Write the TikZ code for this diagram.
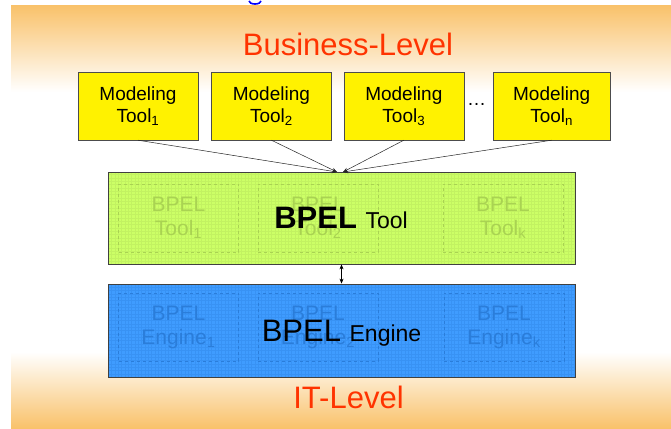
\documentclass[tikz,border=0pt]{standalone}
\usepackage{fontspec}
\setmainfont{Liberation Sans}
\usetikzlibrary{positioning,arrows.meta}
\definecolor{slideorange}{HTML}{F9C26B}
\definecolor{levelred}{HTML}{FF3300}
\definecolor{toolgreen}{HTML}{CCFF66}
\definecolor{gridgreen}{HTML}{C2F261}
\definecolor{fadegreen}{HTML}{A9D352}
\definecolor{engineblue}{HTML}{3F9CFF}
\definecolor{gridblue}{HTML}{3892F4}
\definecolor{fadeblue}{HTML}{2A7DDA}

\begin{document}
\begin{tikzpicture}[x=1pt,y=-1pt,>={Stealth[length=5pt,width=4pt]},
  model node/.style={draw=black!70,fill=yellow,minimum width=120pt,minimum height=68pt,inner sep=0pt,align=center,font=\fontsize{19}{22}\selectfont},
  level node/.style={draw=black!75,line width=0.8pt,minimum width=467pt,minimum height=92pt,inner sep=0pt,
    path picture={\draw[step=3.33pt,#1,line width=0.5pt] (path picture bounding box.south west) grid (path picture bounding box.north east);}},
  inner node/.style={draw=#1,dashed,line width=0.5pt,minimum width=120pt,minimum height=68pt,inner sep=0pt,align=center,text=#1,font=\fontsize{21}{24}\selectfont},
  level text/.style={text=levelred,font=\fontsize{31}{31}\selectfont,anchor=base}]

            % slide background
            \useasboundingbox (0,0) rectangle (671,428);
            \shade[top color=slideorange,bottom color=white] (11,6) rectangle (671,92);
            \fill[white] (11,92) rectangle (671,352);
            \shade[top color=white,bottom color=slideorange] (11,352) rectangle (671,428);
            \draw[blue,line width=1.6pt] (249,1) arc[start angle=180,end angle=360,x radius=6,y radius=-3];

            \node[level text] (business) at (348,56) {Business-Level};
            \node[level text] (it) at (348.5,408) {IT-Level};

            % modeling tools
            \node[model node] (m1) at (138,106) {Modeling\\Tool\textsubscript{1}};
            \node[model node] (m2) [right=13pt of m1] {Modeling\\Tool\textsubscript{2}};
            \node[model node] (m3) [right=12pt of m2] {Modeling\\Tool\textsubscript{3}};
            \node[model node,minimum width=117pt] (mn) [right=29pt of m3] {Modeling\\Tool\textsubscript{n}};
            \node[anchor=base,font=\fontsize{19}{22}\selectfont,inner sep=0pt] (dots) at (476.5,105) {\dots};

            % BPEL tool level
            \node[level node=gridgreen,fill=toolgreen] (tool) at (341.5,218) {};
            \node[inner node=fadegreen] (t1) at (178.5,218) {BPEL\\Tool\textsubscript{1}};
            \node[inner node=fadegreen] (t2) at (318,218) {BPEL\\Tool\textsubscript{2}};
            \node[inner node=fadegreen] (tk) at (503,218) {BPEL\\Tool\textsubscript{k}};
            \node[anchor=base] (tooltext) at (341,228) {\fontsize{31}{31}\selectfont\bfseries BPEL \fontsize{23}{23}\selectfont\mdseries Tool};

            % BPEL engine level
            \node[level node=gridblue,fill=engineblue,minimum height=93pt] (engine) at (341.5,330.5) {};
            \node[inner node=fadeblue] (e1) at (178.5,327) {BPEL\\Engine\textsubscript{1}};
            \node[inner node=fadeblue] (e2) at (318,327) {BPEL\\Engine\textsubscript{2}};
            \node[inner node=fadeblue] (ek) at (504,327) {BPEL\\Engine\textsubscript{k}};
            \node[anchor=base] (enginetext) at (341.5,341) {\fontsize{31}{31}\selectfont BPEL \fontsize{23}{23}\selectfont Engine};

            \coordinate (hub1) at (337,172);
            \coordinate (hub2) at (343,172);

            \draw[->,black!85,line width=0.5pt] (m1.south) to (hub1);
            \draw[->,black!85,line width=0.5pt] (m2.south) to (hub1);
            \draw[->,black!85,line width=0.5pt] (m3.south) to (hub2);
            \draw[->,black!85,line width=0.5pt] (mn.south) to (hub2);
            \draw[<->,line width=0.6pt] (tool.south) to (engine.north);

            ;
        \end{tikzpicture}
\end{document}
